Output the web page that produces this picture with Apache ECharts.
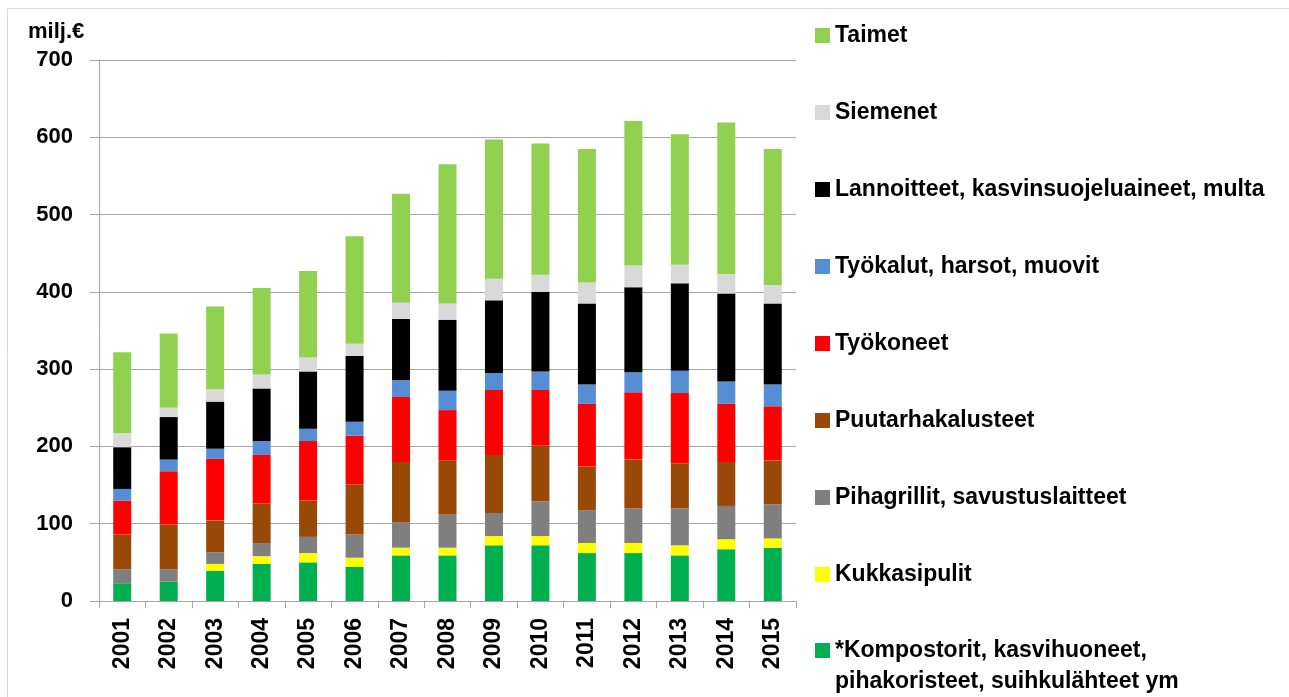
<!DOCTYPE html>
<html>
<head>
<meta charset="utf-8">
<script src="https://cdn.jsdelivr.net/npm/echarts@6/dist/echarts.min.js"></script>
<style>
  html, body { margin: 0; padding: 0; background: #fff; }
  #chart { width: 1289px; height: 697px; }
</style>
</head>
<body>
<div id="chart"></div>
<script>
// vuodet
var years = ["2001", "2002", "2003", "2004", "2005", "2006", "2007", "2008", "2009", "2010", "2011", "2012", "2013", "2014", "2015"];

// milj.€, luettu kuvasta (alhaalta ylös pinottuna)
var kompostorit = [23, 25, 39, 48, 50, 44, 59, 59, 72, 72, 62, 62, 59, 67, 69];
var kukkasipulit = [0, 0, 9, 10, 12, 12, 10, 10, 12, 12, 13, 13, 13, 13, 12];
var pihagrillit = [18, 16, 15, 17, 21, 30, 33, 43, 30, 45, 42, 45, 48, 43, 44];
var puutarhakalusteet = [45, 58, 41, 51, 47, 65, 78, 70, 75, 72, 57, 63, 58, 57, 57];
var tyokoneet = [44, 69, 80, 63, 77, 63, 84, 65, 84, 72, 81, 87, 91, 75, 70];
var tyokalut = [15, 15, 13, 18, 16, 18, 22, 25, 22, 24, 25, 26, 29, 29, 28];
var lannoitteet = [54, 55, 61, 68, 74, 85, 79, 92, 94, 103, 105, 110, 113, 114, 105];
var siemenet = [18, 12, 16, 18, 18, 16, 21, 21, 28, 22, 27, 28, 24, 25, 24];
var taimet = [105, 96, 107, 112, 112, 139, 141, 180, 180, 170, 173, 187, 169, 196, 176];

var yTicks = [0, 100, 200, 300, 400, 500, 600, 700];

var seriesDefs = [
  { name: "*Kompostorit, kasvihuoneet, pihakoristeet, suihkulähteet ym", data: kompostorit, color: "#00B050" },
  { name: "Kukkasipulit", data: kukkasipulit, color: "#FFFF00" },
  { name: "Pihagrillit, savustuslaitteet", data: pihagrillit, color: "#7F7F7F" },
  { name: "Puutarhakalusteet", data: puutarhakalusteet, color: "#984807" },
  { name: "Työkoneet", data: tyokoneet, color: "#FF0000" },
  { name: "Työkalut, harsot, muovit", data: tyokalut, color: "#558ED5" },
  { name: "Lannoitteet, kasvinsuojeluaineet, multa", data: lannoitteet, color: "#000000" },
  { name: "Siemenet", data: siemenet, color: "#D9D9D9" },
  { name: "Taimet", data: taimet, color: "#92D050" }
];

var fontFam = "'Liberation Sans', Arial, sans-serif";

// legenda ylhäältä alas = pinon ylin ensin
var legendNames = seriesDefs.slice().reverse().map(function (s) { return s.name; });
var lastName = legendNames.pop();

var legendText = {
  color: "#000",
  fontSize: 23,
  fontWeight: "bold",
  lineHeight: 20,
  fontFamily: fontFam
};

var myChart = echarts.init(document.getElementById("chart"));

var option = {
  backgroundColor: "#ffffff",
  animation: false,
  textStyle: { fontFamily: fontFam },
  graphic: [
    {
      type: "rect",
      shape: { x: 7.5, y: 8.5, width: 1300, height: 700 },
      style: { fill: "none", stroke: "#D9D9D9", lineWidth: 1 },
      silent: true
    },
    {
      type: "text",
      left: 28, top: 21,
      style: { text: "milj.€", fill: "#000", font: "bold 22px " + fontFam }
    }
  ],
  legend: [
    {
      orient: "vertical",
      left: 815,
      top: 24,
      height: 900,
      padding: 0,
      icon: "rect",
      itemWidth: 15,
      itemHeight: 15,
      itemGap: 54,
      data: legendNames,
      textStyle: legendText
    },
    {
      // kaksirivinen: tyhjä rivi ylös, jotta ikoni osuu ensimmäiselle riville
      orient: "vertical",
      left: 815,
      top: 604,
      padding: 0,
      icon: "rect",
      itemWidth: 15,
      itemHeight: 15,
      data: [lastName],
      formatter: function (name) {
        return "\n" + name.replace(", pihakoristeet", ",\npihakoristeet");
      },
      textStyle: Object.assign({}, legendText, { lineHeight: 31 })
    }
  ],
  grid: {
    left: 99,
    right: 493,
    top: 60,
    bottom: 96,
    containLabel: false
  },
  xAxis: {
    type: "category",
    data: years,
    axisLine: { lineStyle: { color: "#A6A6A6", width: 1 } },
    axisTick: { show: true, length: 7, lineStyle: { color: "#A6A6A6" } },
    axisLabel: {
      rotate: 90,
      margin: 17,
      color: "#000",
      fontSize: 23,
      fontWeight: "bold",
      fontFamily: fontFam
    }
  },
  yAxis: {
    type: "value",
    min: yTicks[0],
    max: yTicks[yTicks.length - 1],
    interval: 100,
    axisLine: { show: true, lineStyle: { color: "#A6A6A6", width: 1 } },
    axisTick: { show: true, length: 9, lineStyle: { color: "#A6A6A6" } },
    axisLabel: {
      margin: 26,
      color: "#000",
      fontSize: 22,
      fontWeight: "bold",
      fontFamily: fontFam
    },
    splitLine: { show: true, lineStyle: { color: "#A6A6A6", width: 1 } }
  },
  series: seriesDefs.map(function (s) {
    return {
      name: s.name,
      type: "bar",
      stack: "total",
      barWidth: 18,
      data: s.data,
      itemStyle: { color: s.color }
    };
  })
};

myChart.setOption(option);
</script>
</body>
</html>
